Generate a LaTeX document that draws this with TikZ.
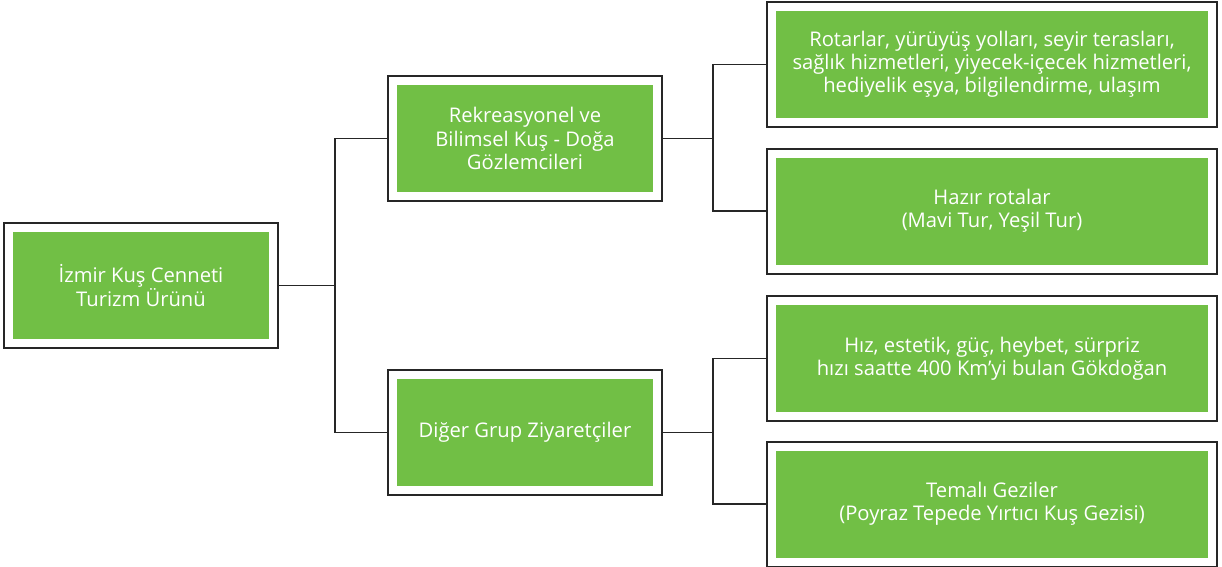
\documentclass[tikz,border=0pt]{standalone}
\usepackage{fontspec}
\setmainfont{Open Sans}
\usepackage{tikz}
\definecolor{kusgreen}{HTML}{71BF45}

\begin{document}
\begin{tikzpicture}[x=0.02cm,y=-0.02cm,
  kutu/.style={rectangle, fill=kusgreen, draw=white, line width=0.16cm,
    preaction={draw=black!85, line width=0.24cm},
    minimum width=5.28cm, minimum height=2.3cm, outer sep=0.12cm, inner sep=0pt, align=center,
    text=white, font=\fontsize{11.5}{13.2}\selectfont},
  genis/.style={kutu, minimum width=8.8cm},
  hat/.style={draw=black!85, line width=1.1pt}]
\useasboundingbox (0,0) rectangle (1222,566);
\node[kutu] (urun) at (141,285.5) {İzmir Kuş Cenneti\\Turizm Ürünü};
\node[kutu] (bilim) at (525,138.5) {Rekreasyonel ve\\Bilimsel Kuş - Doğa\\Gözlemcileri};
\node[kutu] (diger) at (525,432.5) {Diğer Grup Ziyaretçiler};
\node[genis] (rota) at (992,64.5) {Rotarlar, yürüyüş yolları, seyir terasları,\\sağlık hizmetleri, yiyecek-içecek hizmetleri,\\hediyelik eşya, bilgilendirme, ulaşım};
\node[genis] (hazir) at (992,211) {Hazır rotalar\\(Mavi Tur, Yeşil Tur)};
\node[genis] (hiz) at (992,358.5) {Hız, estetik, güç, heybet, sürpriz\\hızı saatte 400 Km’yi bulan Gökdoğan};
\node[genis] (tema) at (992,504) {Temalı Geziler\\(Poyraz Tepede Yırtıcı Kuş Gezisi)};
% birinci dal
\coordinate (d1) at (335,285.5);
\draw[hat] (urun.east) -- (d1);
\draw[hat] (bilim.west) -| (d1) |- (diger.west);
% ikinci dal
\draw[hat] (bilim.east) -- (713,138.5) coordinate (d2);
\draw[hat] (rota.west) -| (d2) |- (hazir.west);
\draw[hat] (diger.east) -- (713,432.5) coordinate (d3);
\draw[hat] (hiz.west) -| (d3) |- (tema.west);
\end{tikzpicture}
\end{document}
